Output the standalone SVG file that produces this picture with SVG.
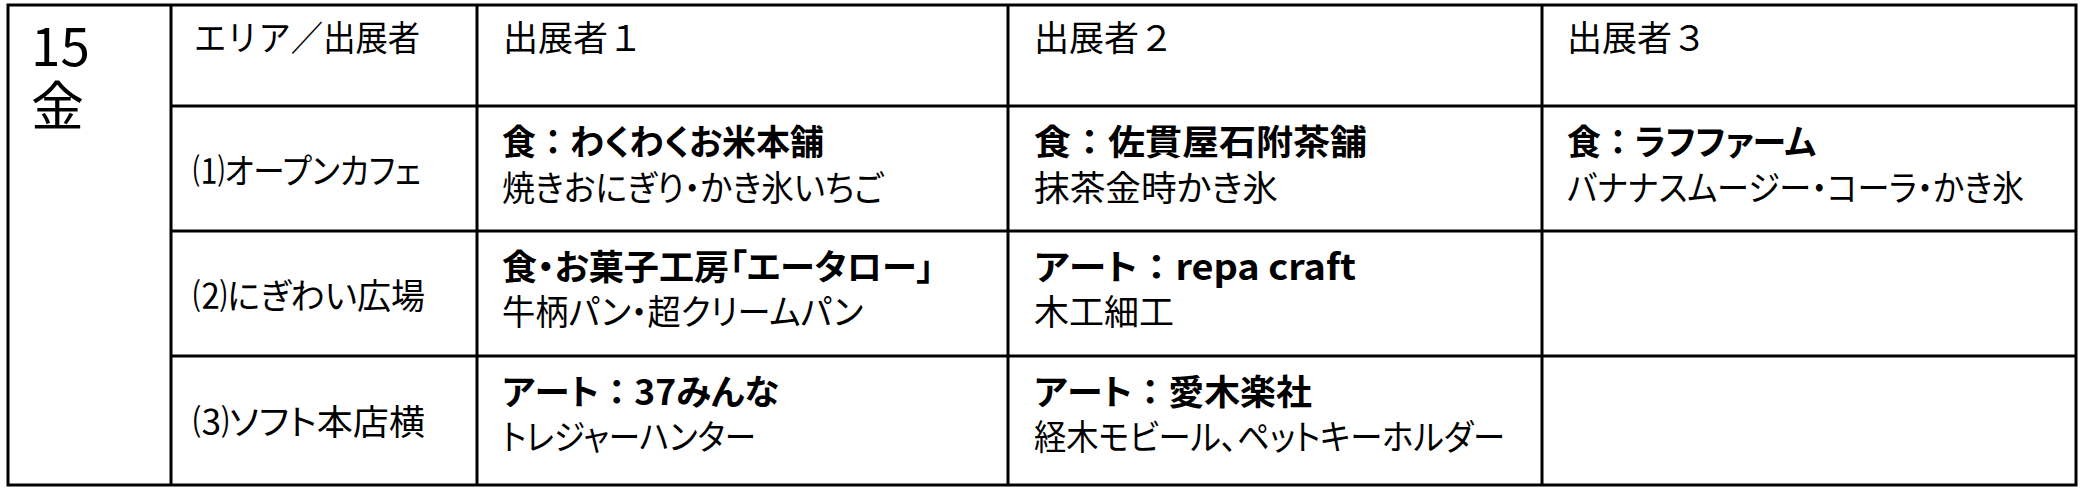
<svg xmlns="http://www.w3.org/2000/svg" width="2087" height="489" viewBox="0 0 2087 489">
<style>
.t{font-family:"Noto Sans CJK JP","Noto Sans",sans-serif;font-size:35px;fill:#000}
.p{font-feature-settings:"palt"}
.n{font-feature-settings:normal}
.b{font-weight:700}
.d{font-size:53px}
.ln{stroke:#000;stroke-width:3;fill:none}
</style>
<rect width="2087" height="489" fill="#fff"/>
<g id="grid" class="ln">
<rect x="8" y="5" width="2068" height="480"/>
<line x1="171" y1="5" x2="171" y2="485"/>
<line x1="477" y1="5" x2="477" y2="485"/>
<line x1="1008" y1="5" x2="1008" y2="485"/>
<line x1="1542" y1="5" x2="1542" y2="485"/>
<line x1="171" y1="106" x2="2076" y2="106"/>
<line x1="171" y1="231" x2="2076" y2="231"/>
<line x1="171" y1="356" x2="2076" y2="356"/>
</g>
<g id="date" class="t d">
<text x="31" y="66">15</text>
<text x="31" y="126">金</text>
</g>
<g id="h-area" class="t"><text x="194" y="51" textLength="226" lengthAdjust="spacingAndGlyphs">エリア／出展者</text></g>
<g id="h-ex1" class="t"><text x="503" y="51">出展者１</text></g>
<g id="h-ex2" class="t"><text x="1034" y="51">出展者２</text></g>
<g id="h-ex3" class="t"><text x="1567" y="51">出展者３</text></g>
<g id="a1" class="t p"><text x="193" y="184" textLength="228" lengthAdjust="spacingAndGlyphs">⑴オープンカフェ</text></g>
<g id="a2" class="t p"><text x="193" y="309" textLength="232" lengthAdjust="spacingAndGlyphs">⑵にぎわい広場</text></g>
<g id="a3" class="t p"><text x="193" y="435" textLength="232" lengthAdjust="spacingAndGlyphs">⑶ソフト本店横</text></g>
<g id="r1c1" class="t p">
<text class="b" x="502" y="155" textLength="322" lengthAdjust="spacingAndGlyphs">食<tspan class="n">：</tspan>わくわくお米本舗</text>
<text x="502" y="201" textLength="381" lengthAdjust="spacingAndGlyphs">焼きおにぎり・かき氷いちご</text>
</g>
<g id="r1c2" class="t p">
<text class="b" x="1034" y="155" textLength="333" lengthAdjust="spacingAndGlyphs">食<tspan class="n">：</tspan>佐貫屋石附茶舗</text>
<text x="1034" y="201" textLength="244" lengthAdjust="spacingAndGlyphs">抹茶金時かき氷</text>
</g>
<g id="r1c3" class="t p">
<text class="b" x="1567" y="155" textLength="249" lengthAdjust="spacingAndGlyphs">食<tspan class="n">：</tspan>ラフファーム</text>
<text x="1567" y="201" textLength="457" lengthAdjust="spacingAndGlyphs">バナナスムージー・コーラ・かき氷</text>
</g>
<g id="r2c1" class="t p">
<text class="b" x="502" y="280" textLength="432" lengthAdjust="spacingAndGlyphs">食・お菓子工房「エータロー」</text>
<text x="502" y="325" textLength="361" lengthAdjust="spacingAndGlyphs">牛柄パン・超クリームパン</text>
</g>
<g id="r2c2" class="t p">
<text class="b" x="1034" y="280" textLength="322" lengthAdjust="spacingAndGlyphs">アート<tspan class="n">：</tspan>repa craft</text>
<text x="1034" y="325">木工細工</text>
</g>
<g id="r3c1" class="t p">
<text class="b" x="502" y="405" textLength="277" lengthAdjust="spacingAndGlyphs">アート<tspan class="n">：</tspan>37みんな</text>
<text x="502" y="450" textLength="254" lengthAdjust="spacingAndGlyphs">トレジャーハンター</text>
</g>
<g id="r3c2" class="t p">
<text class="b" x="1034" y="405" textLength="278" lengthAdjust="spacingAndGlyphs">アート<tspan class="n">：</tspan>愛木楽社</text>
<text x="1034" y="450" textLength="471" lengthAdjust="spacingAndGlyphs">経木モビール、ペットキーホルダー</text>
</g>
</svg>
